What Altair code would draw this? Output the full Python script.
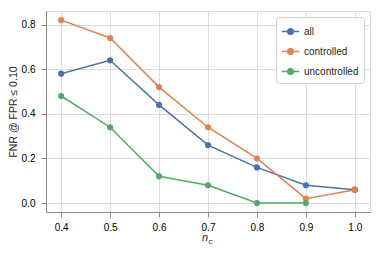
import altair as alt
import pandas as pd

nc = [0.4, 0.5, 0.6, 0.7, 0.8, 0.9, 1.0]
all_vals = [0.58, 0.64, 0.44, 0.26, 0.16, 0.08, 0.06]
controlled = [0.82, 0.74, 0.52, 0.34, 0.20, 0.02, 0.06]
uncontrolled = [0.48, 0.34, 0.12, 0.08, 0.00, 0.00, None]
series_names = ["all", "controlled", "uncontrolled"]
colors = ["#4C72B0", "#DD8452", "#55A868"]

rows = []
for name, vals in zip(series_names, [all_vals, controlled, uncontrolled]):
    for x, v in zip(nc, vals):
        if v is not None:
            rows.append({"nc": x, "value": v, "series": name})
df = pd.DataFrame(rows)

FONT = "Liberation Sans"
sym = "M-1,0L1,0M0.32,0A0.32,0.32 0 1 1 -0.32,0A0.32,0.32 0 1 1 0.32,0Z"

color = alt.Color(
    "series:N",
    scale=alt.Scale(domain=series_names, range=colors),
    legend=alt.Legend(
        title=None, orient="top-right", offset=6,
        symbolType=sym, symbolSize=300, symbolStrokeWidth=1.5,
        labelFont=FONT, labelFontSize=10, labelColor="#262626",
        fillColor="white", strokeColor="#d0d0d0", cornerRadius=3,
        padding=5, rowPadding=4, symbolOffset=0,
    ),
)

x = alt.X("nc:Q", scale=alt.Scale(domain=[0.369, 1.031], nice=False, zero=False),
          axis=alt.Axis(values=nc, format=".1f", title=None, labelPadding=5))
y = alt.Y("value:Q", scale=alt.Scale(domain=[-0.040, 0.861], nice=False, zero=False),
          axis=alt.Axis(values=[0, 0.2, 0.4, 0.6, 0.8], format=".1f",
                        title="FNR @ FPR ≤ 0.10", titlePadding=3, labelPadding=6,
                        titleFontWeight="normal", titleFont=FONT, titleFontSize=10.5,
                        titleColor="#262626"))

base = alt.Chart(df)
lines = base.mark_line(strokeWidth=1.5).encode(x=x, y=y, color=color, detail="series:N")
points = base.mark_circle(size=38, opacity=1).encode(x=x, y=y, color=color)

xt_n = alt.Chart(pd.DataFrame({"t": ["n"]})).mark_text(
    font=FONT, fontSize=11, fontStyle="italic", color="#262626", align="right", baseline="alphabetic"
).encode(text="t:N", x=alt.value(162), y=alt.value(230))
xt_c = alt.Chart(pd.DataFrame({"t": ["c"]})).mark_text(
    font=FONT, fontSize=8, fontStyle="italic", color="#262626", align="left", baseline="alphabetic"
).encode(text="t:N", x=alt.value(162.5), y=alt.value(233))

chart = alt.layer(lines, points, xt_n, xt_c).properties(
    width=324, height=201,
    autosize=alt.AutoSizeParams(type="none"),
    padding={"left": 38, "top": 3, "right": 3, "bottom": 40},
).configure_view(stroke="#d0d0d0", strokeWidth=1).configure_axis(
    grid=True, gridColor="#e2e2e2", gridWidth=1, domain=False, ticks=False,
    labelFont=FONT, labelFontSize=10, labelColor="#262626",
).configure(background="white")

chart.save("out.html", embed_options={"renderer": "svg", "actions": False})
